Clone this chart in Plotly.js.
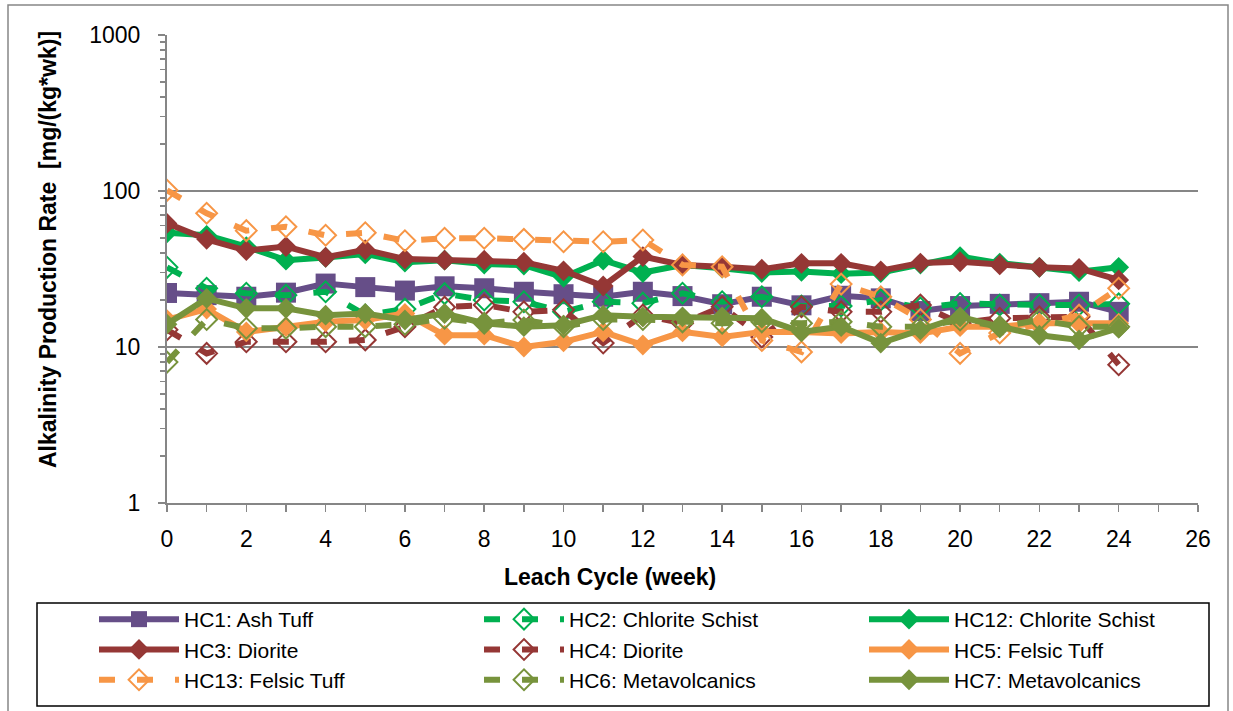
<!DOCTYPE html>
<html>
<head>
<meta charset="utf-8">
<script src="https://cdn.plot.ly/plotly-3.0.1.min.js"></script>
<style>
html,body{margin:0;padding:0;background:#fff;}
#chart{width:1233px;height:711px;}
</style>
</head>
<body>
<div id="chart"></div>
<script>
// ---- data ----
const weeks = [0,1,2,3,4,5,6,7,8,9,10,11,12,13,14,15,16,17,18,19,20,21,22,23,24];
const seriesNames = ["HC1: Ash Tuff","HC2: Chlorite Schist","HC12: Chlorite Schist","HC3: Diorite","HC4: Diorite","HC5: Felsic Tuff","HC13: Felsic Tuff","HC6: Metavolcanics","HC7: Metavolcanics"];
const hc1  = [22.2,21.5,21,22.3,25.5,24.2,23,24.5,23.8,22.6,21.8,21,22.6,21.2,18.8,21,18.5,21.3,20.5,17,18.3,18.9,19.1,19.5,16.8];
const hc2  = [32.4,23.8,22.1,21.5,22.6,16,17.5,22,20,19.5,16.8,19.5,19.1,22.1,19.5,21,18.3,18.3,20,17.8,19,18.6,18.6,18.6,18.9];
const hc12 = [54,52,44,36,37.5,39.5,35,36,34,33.5,28,36,30,33.5,32,30,30.5,29.5,30,34,38,34.5,32.4,30.4,32.4];
const hc3  = [62,49,41.5,44,37.6,42,36.6,36,36,35,30.8,24.6,38,33.6,32.7,31.5,34.4,34.4,30.8,34.5,35.2,33.6,32.4,31.9,26.9];
const hc4  = [12.9,9.1,10.8,10.8,10.8,11.1,13.5,18,18.6,16.8,17.3,10.6,16,14.2,18.1,11.6,18.1,16.8,16.8,18.6,14.2,15.3,15.6,15.6,7.7];
const hc5  = [15,17.5,12.5,13.5,14.5,14.9,16.4,11.9,11.9,10,10.8,12.5,10.3,12.5,11.6,12.5,12.5,12.2,12.5,12.2,13.5,13.5,14.2,14.2,14.2];
const hc13 = [101,72,55.7,59,52,54,48,49.8,49.8,49,47.3,47.3,48.5,33.6,32.7,11,9.3,25.3,21,15,9.1,12.3,14,16,23.8];
const hc6  = [8,15,13.2,13.2,13.5,13.5,14,15.3,14.2,14.9,13.5,15,15,14.5,14.2,14.5,14.2,14.5,13.5,13.5,14.9,13.5,14.9,13.5,13.5];
const hc7  = [14,20.5,17.7,17.7,16,16.4,14.9,16.4,14.2,13.5,13.8,16,15.6,15.6,15.6,15.3,12.5,13.5,10.6,12.9,15.6,13.5,11.9,11.1,13.2];
const yTickVals = [1,10,100,1000];
const xTickLabels = [0,2,4,6,8,10,12,14,16,18,20,22,24,26];
const xTitle = "Leach Cycle (week)";
const yTitle = "Alkalinity Production Rate \u00a0[mg/(kg*wk)]";

// ---- styles ----
const PURPLE = "#664E88", GREEN = "#00B050", RED = "#953735", ORANGE = "#F79646", OLIVE = "#77933C";
const DASH = "16px,22px";
function solid(name, y, color, symbol, size){
  return {x: weeks, y: y, name: name, type: "scatter", mode: "lines+markers",
    line: {color: color, width: 6}, marker: {symbol: symbol, size: size, color: color}};
}
function dashed(name, y, color){
  return {x: weeks, y: y, name: name, type: "scatter", mode: "lines+markers",
    line: {color: color, width: 6, dash: DASH},
    marker: {symbol: "diamond-open", size: 16, color: color, line: {color: color, width: 2}}};
}
const traces = [
  solid(seriesNames[0], hc1, PURPLE, "square", 20),
  dashed(seriesNames[1], hc2, GREEN),
  solid(seriesNames[2], hc12, GREEN, "diamond", 16),
  solid(seriesNames[3], hc3, RED, "diamond", 16),
  dashed(seriesNames[4], hc4, RED),
  solid(seriesNames[5], hc5, ORANGE, "diamond", 16),
  dashed(seriesNames[6], hc13, ORANGE),
  dashed(seriesNames[7], hc6, OLIVE),
  solid(seriesNames[8], hc7, OLIVE, "diamond", 16)
];

// plot area in pixels
const W = 1233, H = 711;
const L = 167, R = 1198, T = 35, B = 503;
const px2x = p => (p - L) / (R - L);
const px2y = p => (B - p) / (B - T);

const minorY = [];
for (let d = 1; d < 1000; d *= 10) for (let k = 2; k <= 9; k++) minorY.push(k * d);

const AX = "#868686";
const FONT = "Liberation Sans, Arial, sans-serif";
const layout = {
  width: W, height: H,
  margin: {l: L, r: W - R, t: T, b: H - B, pad: 0, autoexpand: false},
  paper_bgcolor: "#fff", plot_bgcolor: "#fff",
  showlegend: true,
  font: {family: FONT, color: "#000", size: 22},
  xaxis: {
    range: [0, 26], tickmode: "array", tickvals: xTickLabels, ticktext: xTickLabels.map(String),
    ticks: "outside", ticklen: 7, tickwidth: 1.5, tickcolor: AX,
    minor: {dtick: 1, tick0: 0, ticks: "outside", ticklen: 7, tickwidth: 1.5, tickcolor: AX, showgrid: false},
    showline: true, linecolor: AX, linewidth: 2, showgrid: false, zeroline: false,
    ticklabelstandoff: 7,
    tickfont: {family: FONT, size: 23, color: "#000"}
  },
  yaxis: {
    type: "log", range: [0, 3], tickmode: "array", tickvals: yTickVals, ticktext: yTickVals.map(String),
    ticks: "outside", ticklen: 7, tickwidth: 1.5, tickcolor: AX,
    minor: {tickmode: "array", tickvals: minorY, ticks: "outside", ticklen: 5, tickwidth: 1.5, tickcolor: AX, showgrid: false},
    showline: true, linecolor: AX, linewidth: 2, showgrid: true, gridcolor: AX, gridwidth: 2, zeroline: false,
    ticklabelstandoff: 13,
    tickfont: {family: FONT, size: 23, color: "#000"}
  },
  annotations: [
    {text: "<b>" + xTitle + "</b>", xref: "paper", yref: "paper", x: px2x(610), y: px2y(577),
     xanchor: "center", yanchor: "middle", showarrow: false, font: {family: FONT, size: 23, color: "#000"}},
    {text: "<b>" + yTitle + "</b>", xref: "paper", yref: "paper", x: px2x(48), y: px2y(250),
     xanchor: "center", yanchor: "middle", textangle: -90, showarrow: false, font: {family: FONT, size: 23, color: "#000"}}
  ],
  legend: {
    orientation: "h", xref: "paper", yref: "paper", x: px2x(94), y: px2y(599), xanchor: "left", yanchor: "top",
    entrywidth: 290, entrywidthmode: "pixels", itemwidth: 80,
    font: {family: FONT, size: 21, color: "#000"},
    bgcolor: "rgba(0,0,0,0)", borderwidth: 0, traceorder: "normal"
  },
  shapes: [
    {type: "rect", xref: "paper", yref: "paper", x0: px2x(8), x1: px2x(1228), y0: px2y(720), y1: px2y(5),
     line: {color: AX, width: 1.5}, fillcolor: "rgba(0,0,0,0)", layer: "below"},
    {type: "rect", xref: "paper", yref: "paper", x0: px2x(37), x1: px2x(1209), y0: px2y(706), y1: px2y(603),
     line: {color: "#000", width: 1.5}, fillcolor: "rgba(0,0,0,0)", layer: "below"}
  ],
  hovermode: false
};
Plotly.newPlot("chart", traces, layout, {displayModeBar: false, staticPlot: true});
</script>
</body>
</html>
